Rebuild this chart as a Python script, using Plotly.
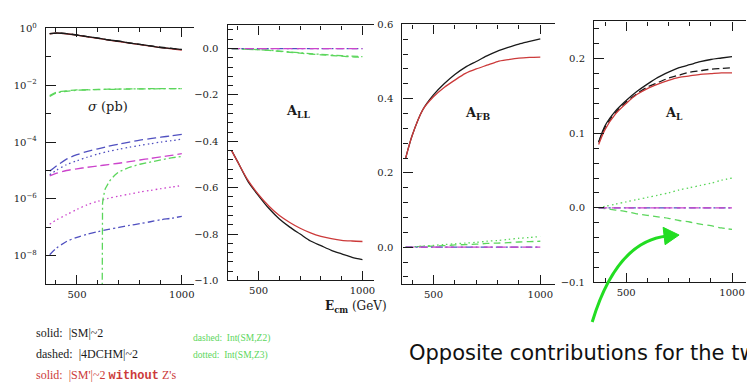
import numpy as np
import plotly.graph_objects as go

W, H = 747, 385

# ---------------- data ----------------
E = [370, 400, 450, 500, 550, 600, 650, 700, 750, 800, 850, 900, 950, 1000]

# sigma (pb)
sig_SM      = [0.65, 0.68, 0.65, 0.575, 0.51, 0.45, 0.39, 0.35, 0.30, 0.27, 0.24, 0.21, 0.195, 0.178]
sig_4DCHM   = [0.65, 0.68, 0.65, 0.58, 0.51, 0.45, 0.39, 0.35, 0.305, 0.27, 0.24, 0.215, 0.197, 0.18]
sig_SMp     = [0.64, 0.67, 0.64, 0.57, 0.50, 0.44, 0.385, 0.34, 0.30, 0.265, 0.235, 0.21, 0.19, 0.172]
sig_int_Z2  = [4.3e-3, 5.6e-3, 6.3e-3, 6.8e-3, 6.9e-3, 7.1e-3, 7.2e-3, 7.3e-3, 7.4e-3, 7.4e-3, 7.5e-3, 7.5e-3, 7.6e-3, 7.6e-3]
sig_int_Z3  = [4.0e-3, 5.3e-3, 6.1e-3, 6.6e-3, 6.8e-3, 7.0e-3, 7.1e-3, 7.2e-3, 7.3e-3, 7.4e-3, 7.4e-3, 7.5e-3, 7.5e-3, 7.6e-3]
sig_Z2      = [9.5e-6, 1.4e-5, 2.5e-5, 3.6e-5, 4.7e-5, 5.8e-5, 7.1e-5, 8.5e-5, 1.0e-4, 1.17e-4, 1.32e-4, 1.48e-4, 1.66e-4, 1.86e-4]
sig_Z3      = [7.1e-6, 1.0e-5, 1.6e-5, 2.2e-5, 2.95e-5, 3.8e-5, 4.7e-5, 5.6e-5, 6.6e-5, 7.6e-5, 8.7e-5, 1.0e-4, 1.12e-4, 1.26e-4]
sig_mag_d   = [6.5e-6, 7.9e-6, 1.0e-5, 1.15e-5, 1.3e-5, 1.45e-5, 1.62e-5, 1.8e-5, 2.05e-5, 2.34e-5, 2.65e-5, 3.0e-5, 3.4e-5, 3.9e-5]
E_zc        = [619, 620, 622, 626, 635, 657, 680, 700, 750, 800, 850, 900, 950, 1000]
sig_zc      = [1e-12, 3e-7, 7e-7, 1.2e-6, 2.3e-6, 4.4e-6, 6.8e-6, 9.0e-6, 1.3e-5, 1.66e-5, 2.0e-5, 2.45e-5, 2.8e-5, 3.1e-5]
sig_mag_dot = [1.3e-7, 1.8e-7, 2.8e-7, 4.3e-7, 6.3e-7, 8.3e-7, 1.05e-6, 1.26e-6, 1.48e-6, 1.74e-6, 2.0e-6, 2.3e-6, 2.6e-6, 2.95e-6]
sig_blu_dd  = [1.1e-8, 1.8e-8, 3.2e-8, 4.5e-8, 5.8e-8, 7.1e-8, 8.5e-8, 1.0e-7, 1.17e-7, 1.35e-7, 1.58e-7, 1.86e-7, 2.1e-7, 2.45e-7]

# A_LL
ALL_SM   = [-0.44, -0.49, -0.575, -0.635, -0.69, -0.735, -0.77, -0.80, -0.83, -0.85, -0.87, -0.885, -0.90, -0.91]
ALL_SMp  = [-0.44, -0.49, -0.57, -0.63, -0.68, -0.72, -0.75, -0.775, -0.795, -0.81, -0.82, -0.827, -0.83, -0.832]
ALL_Z2   = [0.0, -0.001, -0.003, -0.005, -0.008, -0.012, -0.016, -0.02, -0.024, -0.027, -0.030, -0.033, -0.036, -0.038]
ALL_Z3   = [0.0, -0.001, -0.003, -0.005, -0.007, -0.011, -0.015, -0.018, -0.022, -0.025, -0.028, -0.031, -0.033, -0.035]
ALL_zero = [0.0] * 14

# A_FB
AFB_SM   = [0.24, 0.30, 0.37, 0.41, 0.44, 0.465, 0.485, 0.50, 0.515, 0.528, 0.538, 0.547, 0.554, 0.561]
AFB_SMp  = [0.24, 0.30, 0.37, 0.405, 0.43, 0.45, 0.468, 0.48, 0.49, 0.50, 0.505, 0.509, 0.511, 0.512]
AFB_Z2   = [0.0, 0.001, 0.002, 0.003, 0.004, 0.006, 0.007, 0.008, 0.010, 0.011, 0.012, 0.014, 0.015, 0.016]
AFB_Z3   = [0.0, 0.001, 0.003, 0.005, 0.007, 0.009, 0.011, 0.013, 0.016, 0.018, 0.021, 0.024, 0.026, 0.029]
AFB_zero = [0.0] * 14

# A_L
AL_SM    = [0.088, 0.11, 0.13, 0.144, 0.156, 0.166, 0.175, 0.182, 0.188, 0.192, 0.196, 0.199, 0.201, 0.203]
AL_4DCHM = [0.088, 0.108, 0.128, 0.142, 0.153, 0.162, 0.168, 0.174, 0.178, 0.182, 0.184, 0.186, 0.187, 0.188]
AL_SMp   = [0.085, 0.105, 0.126, 0.14, 0.152, 0.16, 0.166, 0.171, 0.175, 0.177, 0.179, 0.18, 0.181, 0.181]
AL_Z3    = [0.0, 0.002, 0.005, 0.008, 0.011, 0.014, 0.017, 0.020, 0.024, 0.027, 0.030, 0.033, 0.037, 0.040]
AL_Z2    = [0.0, -0.001, -0.003, -0.005, -0.008, -0.010, -0.012, -0.014, -0.017, -0.019, -0.022, -0.024, -0.027, -0.029]
AL_zero  = [0.0] * 14

# ---------------- styles ----------------
BLACK = "#1a1a1a"
RED = "#cc3a3a"
GREEN = "#5cd65c"
BLUE = "#5050c0"
MAG = "#cc44cc"
LW = 1.3
DASH = "7px,4px"
LDASH = "9px,4px"
DOT = "1.5px,3px"
DDOT = "7px,3px,2px,3px"


def pxx(p):
    return p / W


def pxy(p):
    return 1 - p / H


fig = go.Figure()


def add(ax, x, y, color, dash="solid", shape="spline"):
    fig.add_trace(go.Scatter(x=x, y=y, mode="lines", xaxis="x" + ax, yaxis="y" + ax,
                             line=dict(color=color, width=LW, dash=dash, shape=shape,
                                       smoothing=0.8 if shape == "spline" else None),
                             showlegend=False, hoverinfo="skip"))


# panel 1
add("", E, sig_mag_dot, MAG, DOT)
add("", E, sig_blu_dd, BLUE, DDOT)
add("", E_zc, sig_zc, GREEN, DDOT, "linear")
add("", E, sig_mag_d, MAG, LDASH)
add("", E, sig_Z3, BLUE, DOT)
add("", E, sig_Z2, BLUE, LDASH)
add("", E, sig_int_Z3, GREEN, DDOT)
add("", E, sig_int_Z2, GREEN, DASH)
add("", E, sig_SMp, RED)
add("", E, sig_SM, BLACK)
add("", E, sig_4DCHM, BLACK, DASH)
# panel 2
add("2", E, ALL_Z2, GREEN, DASH)
add("2", E, ALL_Z3, GREEN, DDOT)
add("2", E, ALL_zero, BLUE, DDOT)
add("2", E, ALL_zero, MAG, LDASH)
add("2", E, ALL_SM, BLACK)
add("2", E, ALL_SMp, RED)
# panel 3
add("3", E, AFB_Z2, GREEN, DASH)
add("3", E, AFB_Z3, GREEN, DOT)
add("3", E, AFB_zero, BLUE, DDOT)
add("3", E, AFB_zero, MAG, LDASH)
add("3", E, AFB_SM, BLACK)
add("3", E, AFB_SMp, RED)
# panel 4
add("4", E, AL_Z2, GREEN, DASH)
add("4", E, AL_Z3, GREEN, DOT)
add("4", E, AL_zero, BLUE, DDOT)
add("4", E, AL_zero, MAG, LDASH)
add("4", E, AL_SM, BLACK)
add("4", E, AL_4DCHM, BLACK, DASH)
add("4", E, AL_SMp, RED)

TF = dict(family="DejaVu Serif", size=10, color="#222")


def xaxis(dom, rng, anchor):
    return dict(domain=[pxx(dom[0]), pxx(dom[1])], range=rng, anchor=anchor,
                showline=True, linecolor=BLACK, linewidth=1.4, mirror="ticks",
                ticks="inside", ticklen=9, tickwidth=1.2, tickcolor=BLACK,
                tickvals=[500, 1000], ticktext=["500", "1000"], tickfont=TF,
                minor=dict(tickvals=[400, 600, 700, 800, 900], ticks="inside", ticklen=4,
                           tickwidth=1, tickcolor=BLACK),
                showgrid=False, zeroline=False, fixedrange=True)


def yaxis(dom, rng, anchor, majors, minors, fmt=".1f", typ="linear", text=None):
    d = dict(domain=[pxy(dom[1]), pxy(dom[0])], range=rng, anchor=anchor, type=typ,
             showline=True, linecolor=BLACK, linewidth=1.4, mirror=False,
             ticks="inside", ticklen=10, tickwidth=1.2, tickcolor=BLACK,
             tickvals=majors, tickfont=TF, ticklabelstandoff=6,
             minor=dict(tickvals=minors, ticks="inside", ticklen=5, tickwidth=1, tickcolor=BLACK),
             showgrid=False, zeroline=False, fixedrange=True)
    if text is not None:
        d["ticktext"] = text
    else:
        d["tickformat"] = fmt
    return d


log_major = [1, 1e-2, 1e-4, 1e-6, 1e-8]
log_text = ["10<sup>0</sup>", "10<sup>−2</sup>", "10<sup>−4</sup>", "10<sup>−6</sup>", "10<sup>−8</sup>"]
log_minor = [1e-1, 1e-3, 1e-5, 1e-7, 1e-9]

m2 = [v for v in np.round(np.arange(-1.0, 0.1001, 0.04), 3) if round(v / 0.2, 3) % 1 != 0]
m3 = [v for v in np.round(np.arange(-0.08, 0.6001, 0.04), 3) if round(v / 0.2, 3) % 1 != 0]
m4 = [v for v in np.round(np.arange(-0.1, 0.2501, 0.02), 3) if round(v / 0.1, 3) % 1 != 0]

fig.update_layout(
    width=W, height=H, margin=dict(l=0, r=0, t=0, b=0),
    paper_bgcolor="white", plot_bgcolor="white",
    xaxis=xaxis((46, 194), [352, 1057], "y"),
    yaxis=yaxis((22, 287), [-9, 0], "x", log_major, log_minor, typ="log", text=log_text),
    xaxis2=xaxis((228, 375), [351, 1058], "y2"),
    yaxis2=yaxis((19, 283), [-1.0, 0.1], "x2", [0, -0.2, -0.4, -0.6, -0.8, -1.0], m2),
    xaxis3=xaxis((403, 556), [355, 1070], "y3"),
    yaxis3=yaxis((18, 287), [-0.1, 0.6], "x3", [0, 0.2, 0.4, 0.6], m3),
    xaxis4=xaxis((595, 747), [349, 1066], "y4"),
    yaxis4=yaxis((15, 285), [-0.1, 0.25], "x4", [-0.1, 0.0, 0.1, 0.2], m4),
)


def note(x, y, text, size=12, color=BLACK, family="DejaVu Serif", xanchor="center"):
    fig.add_annotation(x=pxx(x), y=pxy(y), xref="paper", yref="paper", text=text,
                       showarrow=False, xanchor=xanchor, yanchor="middle",
                       font=dict(family=family, size=size, color=color))


note(108, 103, "<i>σ</i> (pb)", 13)
note(298, 108, "<b>A<sub>LL</sub></b>", 13)
note(479, 110, "<b>A<sub>FB</sub></b>", 13)
note(675, 110, "<b>A<sub>L</sub></b>", 13)
note(323, 311, "<b>E<sub>cm</sub></b> (GeV)", 12, xanchor="left")

note(34, 337, "solid:  |SM|~2", 12, BLACK, "Liberation Serif", "left")
note(34, 359, "dashed:  |4DCHM|~2", 12, BLACK, "Liberation Serif", "left")
note(34, 381, "solid:  |SM'|~2 <b><span style='font-family:Liberation Mono'>without</span></b> Z's", 12, RED, "Liberation Serif", "left")
note(191, 343, "dashed:  Int(SM,Z2)", 9.5, GREEN, "Liberation Serif", "left")
note(191, 361, "dotted:  Int(SM,Z3)", 9.5, GREEN, "Liberation Serif", "left")

note(408, 358, "Opposite contributions for the tw", 21, "#111", "DejaVu Sans", "left")

# green hand-drawn arrow
AG = "#22dd22"
p0, c, p2 = (593, 326), (617.5, 242.5), (668, 237)
fig.add_shape(type="path", xref="paper", yref="paper",
              path=f"M {pxx(p0[0])},{pxy(p0[1])} Q {pxx(c[0])},{pxy(c[1])} {pxx(p2[0])},{pxy(p2[1])}",
              line=dict(color=AG, width=3))
fig.add_shape(type="path", xref="paper", yref="paper",
              path=f"M {pxx(680)},{pxy(236)} L {pxx(664)},{pxy(228)} L {pxx(666)},{pxy(246)} Z",
              line=dict(color=AG, width=1), fillcolor=AG)

fig.write_html("out.html")
